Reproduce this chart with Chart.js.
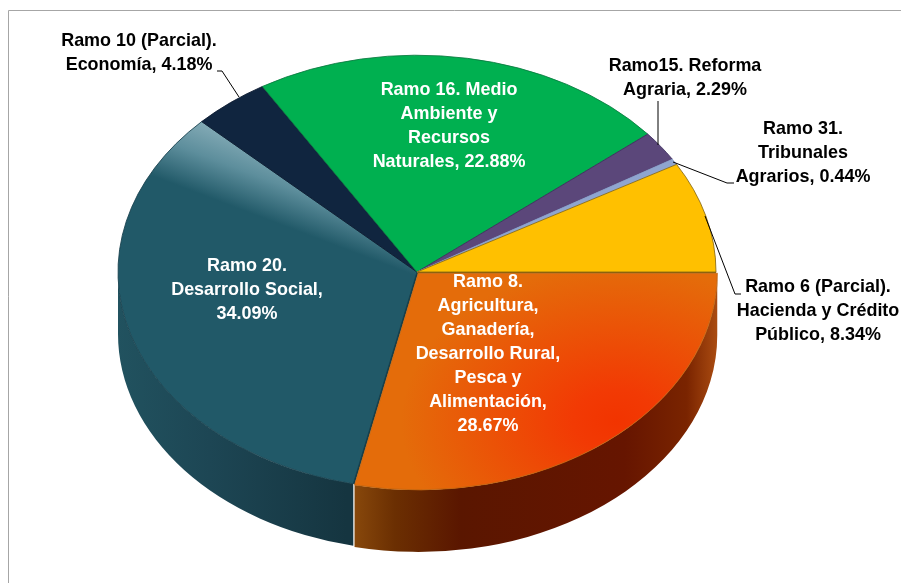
<!DOCTYPE html>
<html>
<head>
<meta charset="utf-8">
<title>Ramos</title>
<script src="https://cdn.jsdelivr.net/npm/chart.js@4"></script>
<style>
  html, body { margin: 0; padding: 0; background: #fff; }
  canvas { display: block; }
</style>
</head>
<body>
<canvas id="pie" width="901" height="583"></canvas>
<script>
var categories = ["Ramo 8", "Ramo 20", "Ramo 10", "Ramo 16", "Ramo 15", "Ramo 31", "Ramo 6"];
var values = [28.67, 34.09, 4.18, 22.88, 2.29, 0.44, 8.34];
var labelLines = [
  ["Ramo 8.", "Agricultura,", "Ganadería,", "Desarrollo Rural,", "Pesca y", "Alimentación,", "{v}"],
  ["Ramo 20.", "Desarrollo Social,", "{v}"],
  ["Ramo 10 (Parcial).", "Economía, {v}"],
  ["Ramo 16. Medio", "Ambiente y", "Recursos", "Naturales, {v}"],
  ["Ramo15. Reforma", "Agraria, {v}"],
  ["Ramo 31.", "Tribunales", "Agrarios, {v}"],
  ["Ramo 6 (Parcial).", "Hacienda y Crédito", "Público, {v}"]
];

// where each label sits: centre x, middle of first line, text colour
var labelPlace = [
  { x: 488, y: 282, color: "#fff" },
  { x: 247, y: 266, color: "#fff" },
  { x: 139, y: 41, color: "#000" },
  { x: 449, y: 90, color: "#fff" },
  { x: 685, y: 66, color: "#000" },
  { x: 803, y: 129, color: "#000" },
  { x: 818, y: 287, color: "#000" }
];

var leaderLines = [
  [[217, 71], [222, 71], [239, 97]],
  [[658, 101], [658, 145]],
  [[673, 162], [727, 183], [734, 183]],
  [[705, 216], [735, 294], [741, 294]]
];

var tilt = 0.725;
var depth = 62;
var pieRadius = 299;
var lineHeight = 23.9;
var textSqueeze = 0.945;

var canvas = document.getElementById("pie");
var ctx = canvas.getContext("2d");

// gradients are given in the flat pie's coordinates, the tilt squashes them later
var tealFace = ctx.createLinearGradient(210, 60, 165, 146);
tealFace.addColorStop(0, "#8bb0bb");
tealFace.addColorStop(0.5, "#5d8e9c");
tealFace.addColorStop(1, "#215968");

var orangeFace = ctx.createRadialGradient(615, 476, 0, 615, 476, 215);
orangeFace.addColorStop(0, "#f23400");
orangeFace.addColorStop(0.2, "#f23a04");
orangeFace.addColorStop(1, "#e46c0a");

var orangeWall = ctx.createLinearGradient(351, 0, 716, 0);
orangeWall.addColorStop(0, "#8a4a0c");
orangeWall.addColorStop(0.12, "#6b2f02");
orangeWall.addColorStop(0.3, "#5a1600");
orangeWall.addColorStop(0.75, "#661500");
orangeWall.addColorStop(0.92, "#7a2400");
orangeWall.addColorStop(1, "#a84a10");

var tealWall = ctx.createLinearGradient(118, 0, 347, 0);
tealWall.addColorStop(0, "#21525f");
tealWall.addColorStop(0.4, "#1d4654");
tealWall.addColorStop(1, "#153540");

var sideFills = [orangeWall, tealWall, null, null, null, null, null];

function drawWall(arc, fill) {
  var start = Math.max(arc.startAngle, 0);
  var end = Math.min(arc.endAngle, Math.PI);
  var mid = (arc.startAngle + arc.endAngle) / 2;
  var shift = (arc.options.offset || 0) / 4;
  var x = arc.x + Math.cos(mid) * shift;
  var y = arc.y + Math.sin(mid) * shift * tilt;
  var ry = arc.outerRadius * tilt;
  ctx.beginPath();
  ctx.ellipse(x, y, arc.outerRadius, ry, 0, start, end);
  ctx.lineTo(x + Math.cos(end) * arc.outerRadius, y + Math.sin(end) * ry + depth);
  ctx.ellipse(x, y + depth, arc.outerRadius, ry, 0, end, start, true);
  ctx.closePath();
  ctx.fillStyle = fill;
  ctx.fill();
}

// dark line along a slice edge, seen in the gap beside the pulled-out slice
function drawCutEdge(arc, angle, color, width) {
  ctx.strokeStyle = color;
  ctx.lineWidth = width;
  ctx.beginPath();
  ctx.moveTo(arc.x, arc.y);
  ctx.lineTo(arc.x + Math.cos(angle) * arc.outerRadius, arc.y + Math.sin(angle) * arc.outerRadius * tilt);
  ctx.stroke();
}

var tiltedPie = {
  id: "tiltedPie",
  beforeDraw: function (chart) {
    // frame runs off the right and bottom of the page
    var c = chart.ctx;
    c.save();
    c.strokeStyle = "#a6a6a6";
    c.lineWidth = 1;
    c.beginPath();
    c.moveTo(8.5, 583);
    c.lineTo(8.5, 10.5);
    c.lineTo(901, 10.5);
    c.stroke();
    c.restore();
  },
  beforeDatasetsDraw: function (chart) {
    var c = chart.ctx;
    var arcs = chart.getDatasetMeta(0).data;
    arcs.forEach(function (arc, i) {
      if (sideFills[i]) drawWall(arc, sideFills[i]);
    });

    var a = arcs[1];
    c.save();
    drawCutEdge(a, a.startAngle, "#123b47", 3);
    drawCutEdge(a, 0, "#7a5a10", 3);
    c.restore();

    c.save();
    c.translate(0, a.y);
    c.scale(1, tilt);
    c.translate(0, -a.y);
  },
  afterDatasetsDraw: function (chart) {
    var c = chart.ctx;
    c.restore();

    c.strokeStyle = "#000";
    c.lineWidth = 1;
    leaderLines.forEach(function (pts) {
      c.beginPath();
      pts.forEach(function (p, i) {
        if (i === 0) c.moveTo(p[0], p[1]);
        else c.lineTo(p[0], p[1]);
      });
      c.stroke();
    });

    c.font = "bold 19px 'Liberation Sans'";
    c.textAlign = "center";
    c.textBaseline = "middle";
    labelLines.forEach(function (lines, i) {
      var place = labelPlace[i];
      c.fillStyle = place.color;
      lines.forEach(function (line, j) {
        var text = line.replace("{v}", values[i].toFixed(2) + "%");
        c.save();
        c.translate(place.x, place.y + j * lineHeight);
        c.scale(textSqueeze, 1);
        c.fillText(text, 0, 0);
        c.restore();
      });
    });
  }
};

new Chart(ctx, {
  type: "pie",
  data: {
    labels: categories,
    datasets: [
      {
        data: values,
        backgroundColor: [orangeFace, tealFace, "#10253f", "#00b050", "#5b477a", "#8fa5cf", "#ffc000"],
        borderColor: ["#c0640e", "#17404d", "#0c1a30", "#0b7a40", "#3e2f60", "#8ca2cc", "#8a6a10"],
        borderWidth: 1,
        offset: [8, 0, 0, 0, 0, 0, 0],
        radius: pieRadius,
        clip: false
      }
    ]
  },
  options: {
    responsive: false,
    animation: false,
    rotation: 90,
    events: [],
    layout: {
      padding: { top: 0, right: 67, bottom: 39, left: 0 }
    },
    plugins: {
      legend: { display: false },
      tooltip: { enabled: false }
    }
  },
  plugins: [tiltedPie]
});
</script>
</body>
</html>
